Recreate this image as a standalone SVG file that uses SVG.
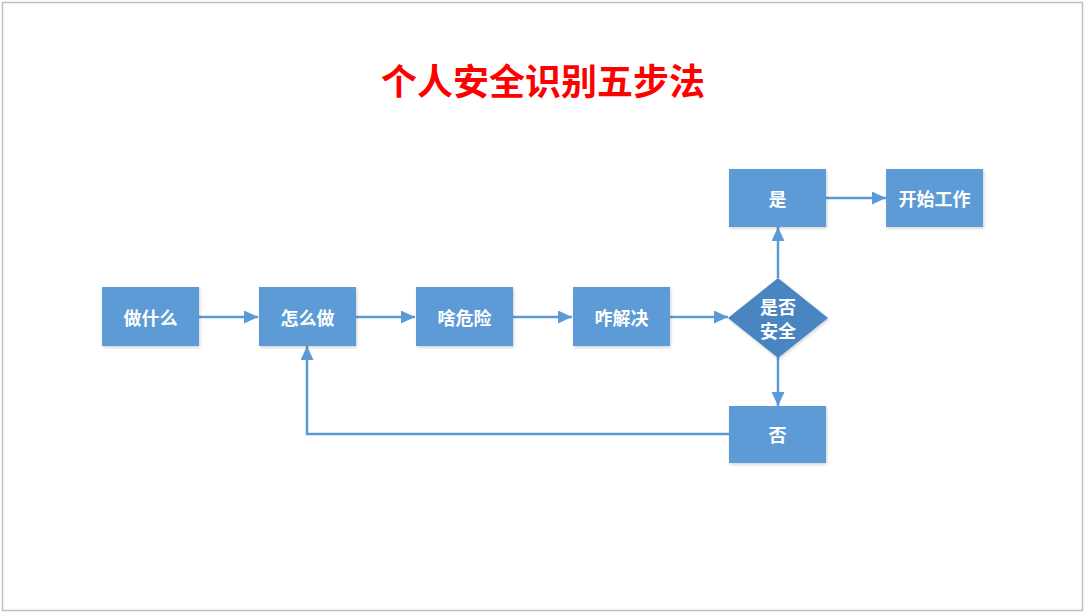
<svg xmlns="http://www.w3.org/2000/svg" width="1086" height="613" viewBox="0 0 1086 613">
<style>
.box{fill:#5b9bd5;filter:url(#sh)}
.dia{fill:#4a86c1;filter:url(#sh)}
.lbl{font-family:"Noto Sans CJK SC","Noto Sans",sans-serif;font-weight:bold;font-size:18px;fill:#ffffff;text-anchor:middle;dominant-baseline:central}
.ln{stroke:#5b9bd5;stroke-width:2.5;fill:none}
</style>
<defs>
<filter id="sh" x="-20%" y="-20%" width="140%" height="140%">
<feDropShadow dx="1" dy="1.5" stdDeviation="1.5" flood-color="#000" flood-opacity="0.18"/>
</filter>
<marker id="ah" viewBox="0 0 14 13" refX="14" refY="6.5" markerWidth="14" markerHeight="13" markerUnits="userSpaceOnUse" orient="auto">
<path d="M0,0 L14,6.5 L0,13 Z" fill="#5b9bd5"/>
</marker>
</defs>
<rect x="0" y="0" width="1086" height="613" fill="#ffffff"/>
<rect x="2.5" y="2.5" width="1080" height="608" fill="none" stroke="#c0c0c0" stroke-width="1.5"/>
<text x="543" y="79" font-family="Noto Sans CJK SC,sans-serif" font-weight="bold" font-size="36" fill="#ff0000" text-anchor="middle" dominant-baseline="central">个人安全识别五步法</text>
<g id="connectors">
<line class="ln" x1="199" y1="317" x2="258" y2="317" marker-end="url(#ah)"/>
<line class="ln" x1="356" y1="317" x2="415" y2="317" marker-end="url(#ah)"/>
<line class="ln" x1="513" y1="317" x2="572" y2="317" marker-end="url(#ah)"/>
<line class="ln" x1="670" y1="317" x2="728" y2="317" marker-end="url(#ah)"/>
<line class="ln" x1="778" y1="278" x2="778" y2="227" marker-end="url(#ah)"/>
<line class="ln" x1="826" y1="198" x2="886" y2="198" marker-end="url(#ah)"/>
<line class="ln" x1="778" y1="357" x2="778" y2="406" marker-end="url(#ah)"/>
<polyline class="ln" points="729,434 307,434 307,346" marker-end="url(#ah)"/>
</g>
<g id="n1"><rect class="box" x="102" y="287" width="97" height="59"/><text class="lbl" x="150.5" y="317">做什么</text></g>
<g id="n2"><rect class="box" x="259" y="287" width="97" height="59"/><text class="lbl" x="307.5" y="317">怎么做</text></g>
<g id="n3"><rect class="box" x="416" y="287" width="97" height="59"/><text class="lbl" x="464.5" y="317">啥危险</text></g>
<g id="n4"><rect class="box" x="573" y="287" width="97" height="59"/><text class="lbl" x="621.5" y="317">咋解决</text></g>
<g id="n5"><path class="dia" d="M778,278 L828,318 L778,358 L728,318 Z"/><text class="lbl" x="778" y="306">是否</text><text class="lbl" x="778" y="330">安全</text></g>
<g id="n6"><rect class="box" x="729" y="169" width="97" height="58"/><text class="lbl" x="777.5" y="198">是</text></g>
<g id="n7"><rect class="box" x="886" y="169" width="97" height="58"/><text class="lbl" x="934.5" y="198">开始工作</text></g>
<g id="n8"><rect class="box" x="729" y="406" width="97" height="57"/><text class="lbl" x="777.5" y="434">否</text></g>
</svg>
